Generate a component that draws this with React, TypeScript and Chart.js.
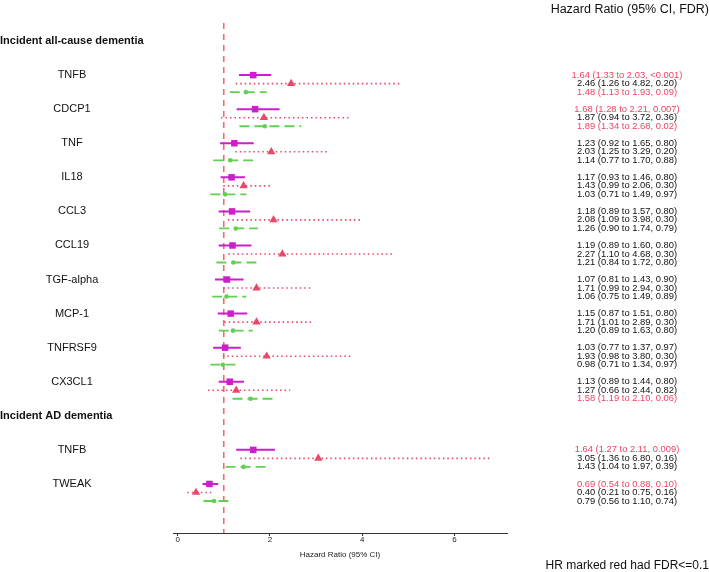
import React, { useEffect, useRef } from "react";
import { Chart, registerables } from "chart.js";

Chart.register(...registerables);

// ---------- data ----------
const groupLabels = ["Incident all-cause dementia", "Incident AD dementia"];
const groupRows = [0, 11];

const genes = ["TNFB", "CDCP1", "TNF", "IL18", "CCL3", "CCL19", "TGF-alpha", "MCP-1", "TNFRSF9", "CX3CL1", "TNFB", "TWEAK"];
const geneRows = [1, 2, 3, 4, 5, 6, 7, 8, 9, 10, 12, 13];

// series 1 (magenta squares, solid)
const hr1 = [1.64, 1.68, 1.23, 1.17, 1.18, 1.19, 1.07, 1.15, 1.03, 1.13, 1.64, 0.69];
const lo1 = [1.33, 1.28, 0.92, 0.93, 0.89, 0.89, 0.81, 0.87, 0.77, 0.89, 1.27, 0.54];
const hi1 = [2.03, 2.21, 1.65, 1.46, 1.57, 1.60, 1.43, 1.51, 1.37, 1.44, 2.11, 0.88];
const fdr1 = ["<0.001", "0.007", "0.80", "0.80", "0.80", "0.80", "0.90", "0.80", "0.97", "0.80", "0.009", "0.10"];

// series 2 (red triangles, dotted)
const hr2 = [2.46, 1.87, 2.03, 1.43, 2.08, 2.27, 1.71, 1.71, 1.93, 1.27, 3.05, 0.40];
const lo2 = [1.26, 0.94, 1.25, 0.99, 1.09, 1.10, 0.99, 1.01, 0.98, 0.66, 1.36, 0.21];
const hi2 = [4.82, 3.72, 3.29, 2.06, 3.98, 4.68, 2.94, 2.89, 3.80, 2.44, 6.80, 0.75];
const fdr2 = ["0.20", "0.36", "0.20", "0.30", "0.30", "0.30", "0.30", "0.30", "0.30", "0.82", "0.16", "0.16"];

// series 3 (green points, long dash)
const hr3 = [1.48, 1.89, 1.14, 1.03, 1.26, 1.21, 1.06, 1.20, 0.98, 1.58, 1.43, 0.79];
const lo3 = [1.13, 1.34, 0.77, 0.71, 0.90, 0.84, 0.75, 0.89, 0.71, 1.19, 1.04, 0.56];
const hi3 = [1.93, 2.68, 1.70, 1.49, 1.74, 1.72, 1.49, 1.63, 1.34, 2.10, 1.97, 1.10];
const fdr3 = ["0.09", "0.02", "0.88", "0.97", "0.79", "0.80", "0.89", "0.80", "0.97", "0.06", "0.39", "0.74"];

const xTicks = [0, 2, 4, 6];
const fdrThreshold = 0.1;
const refHR = 1;

// ---------- styling / layout ----------
const X_MIN = -0.1;
const X_MAX = 7.14;
const ROW_MIN = -0.53;
const ROW_MAX = 14.44;
const OFFSETS = [0, 0.25, 0.5];
const FONT = '"Liberation Sans", Arial, Helvetica, sans-serif';
const RED_TEXT = "#EC4464";

const series = [
  { hr: hr1, lo: lo1, hi: hi1, fdr: fdr1, color: "#CC1FCC", width: 2, dash: [] as number[], style: "rect", radius: 4.6 },
  { hr: hr2, lo: lo2, hi: hi2, fdr: fdr2, color: "#E8486A", width: 1.6, dash: [1.5, 3.0], style: "triangle", radius: 4.8 },
  { hr: hr3, lo: lo3, hi: hi3, fdr: fdr3, color: "#62D052", width: 1.8, dash: [10, 5], style: "circle", radius: 2.3 },
];

const isSig = (f: string) => parseFloat(f.replace("<", "")) <= fdrThreshold;
const fmt = (hr: number, lo: number, hi: number, f: string) =>
  `${hr.toFixed(2)} (${lo.toFixed(2)} to ${hi.toFixed(2)}, ${f})`;

const textPlugin = {
  id: "forestText",
  afterDraw(chart: any) {
    const ctx: CanvasRenderingContext2D = chart.ctx;
    const ys = chart.scales.y;
    ctx.save();
    ctx.textBaseline = "middle";
    ctx.fillStyle = "#111";

    ctx.font = `bold 11px ${FONT}`;
    ctx.textAlign = "left";
    groupLabels.forEach((g, i) => ctx.fillText(g, 0, ys.getPixelForValue(groupRows[i])));

    ctx.font = `11px ${FONT}`;
    ctx.textAlign = "center";
    genes.forEach((g, i) => ctx.fillText(g, 72, ys.getPixelForValue(geneRows[i])));

    ctx.font = `9.4px ${FONT}`;
    ctx.textAlign = "center";
    series.forEach((s, si) => {
      geneRows.forEach((r, i) => {
        ctx.fillStyle = isSig(s.fdr[i]) ? RED_TEXT : "#111";
        ctx.fillText(fmt(s.hr[i], s.lo[i], s.hi[i], s.fdr[i]), 627, ys.getPixelForValue(r + OFFSETS[si]));
      });
    });

    ctx.fillStyle = "#111";
    ctx.textAlign = "right";
    ctx.font = `12.5px ${FONT}`;
    ctx.fillText("Hazard Ratio (95% CI, FDR)", 709, 10);
    ctx.font = `12px ${FONT}`;
    ctx.fillText("HR marked red had FDR<=0.1", 709, 566);
    ctx.restore();
  },
};

export default function App() {
  const ref = useRef<HTMLCanvasElement>(null);

  useEffect(() => {
    if (!ref.current) return;

    const datasets: any[] = [];
    series.forEach((s, si) => {
      const seg: any[] = [];
      geneRows.forEach((r, i) => {
        seg.push({ x: s.lo[i], y: r + OFFSETS[si] });
        seg.push({ x: s.hi[i], y: r + OFFSETS[si] });
        seg.push({ x: s.hi[i], y: null });
      });
      datasets.push({
        type: "line",
        data: seg,
        borderColor: s.color,
        borderWidth: s.width,
        borderDash: s.dash,
        pointRadius: 0,
        spanGaps: false,
        order: 10 + si,
      });
      datasets.push({
        type: "line",
        data: geneRows.map((r, i) => ({ x: s.hr[i], y: r + OFFSETS[si] })),
        showLine: false,
        pointStyle: s.style,
        pointRadius: s.radius,
        pointBackgroundColor: s.color,
        pointBorderColor: s.color,
        pointBorderWidth: 0,
        order: si,
      });
    });
    datasets.push({
      type: "line",
      data: [
        { x: refHR, y: ROW_MIN },
        { x: refHR, y: ROW_MAX },
      ],
      borderColor: "rgba(240,90,95,0.9)",
      borderWidth: 1.6,
      borderDash: [6, 5],
      pointRadius: 0,
      order: 20,
    });

    const chart = new Chart(ref.current, {
      type: "line",
      data: { datasets },
      options: {
        animation: false,
        responsive: false,
        events: [],
        layout: { padding: { left: 173, right: 202, top: 23, bottom: 12.2 } },
        plugins: { legend: { display: false }, tooltip: { enabled: false } },
        scales: {
          x: {
            type: "linear",
            min: X_MIN,
            max: X_MAX,
            afterBuildTicks: (scale: any) => {
              scale.ticks = xTicks.map((v) => ({ value: v }));
            },
            border: { display: true, color: "#333", width: 1 },
            grid: { display: true, drawOnChartArea: false, drawTicks: true, tickLength: 3, color: "#333" },
            ticks: { font: { size: 8, family: FONT }, color: "#222", padding: -1, maxRotation: 0 },
            title: {
              display: true,
              text: "Hazard Ratio (95% CI)",
              font: { size: 8, family: FONT },
              color: "#222",
              padding: { top: 6.6, bottom: 0 },
            },
          },
          y: {
            type: "linear",
            display: false,
            reverse: true,
            min: ROW_MIN,
            max: ROW_MAX,
          },
        },
      } as any,
      plugins: [textPlugin],
    });
    return () => chart.destroy();
  }, []);

  return (
    <div style={{ position: "fixed", left: 0, top: 0, width: 709, height: 572, background: "#fff" }}>
      <canvas ref={ref} width={709} height={572} style={{ display: "block", width: 709, height: 572 }} />
    </div>
  );
}
